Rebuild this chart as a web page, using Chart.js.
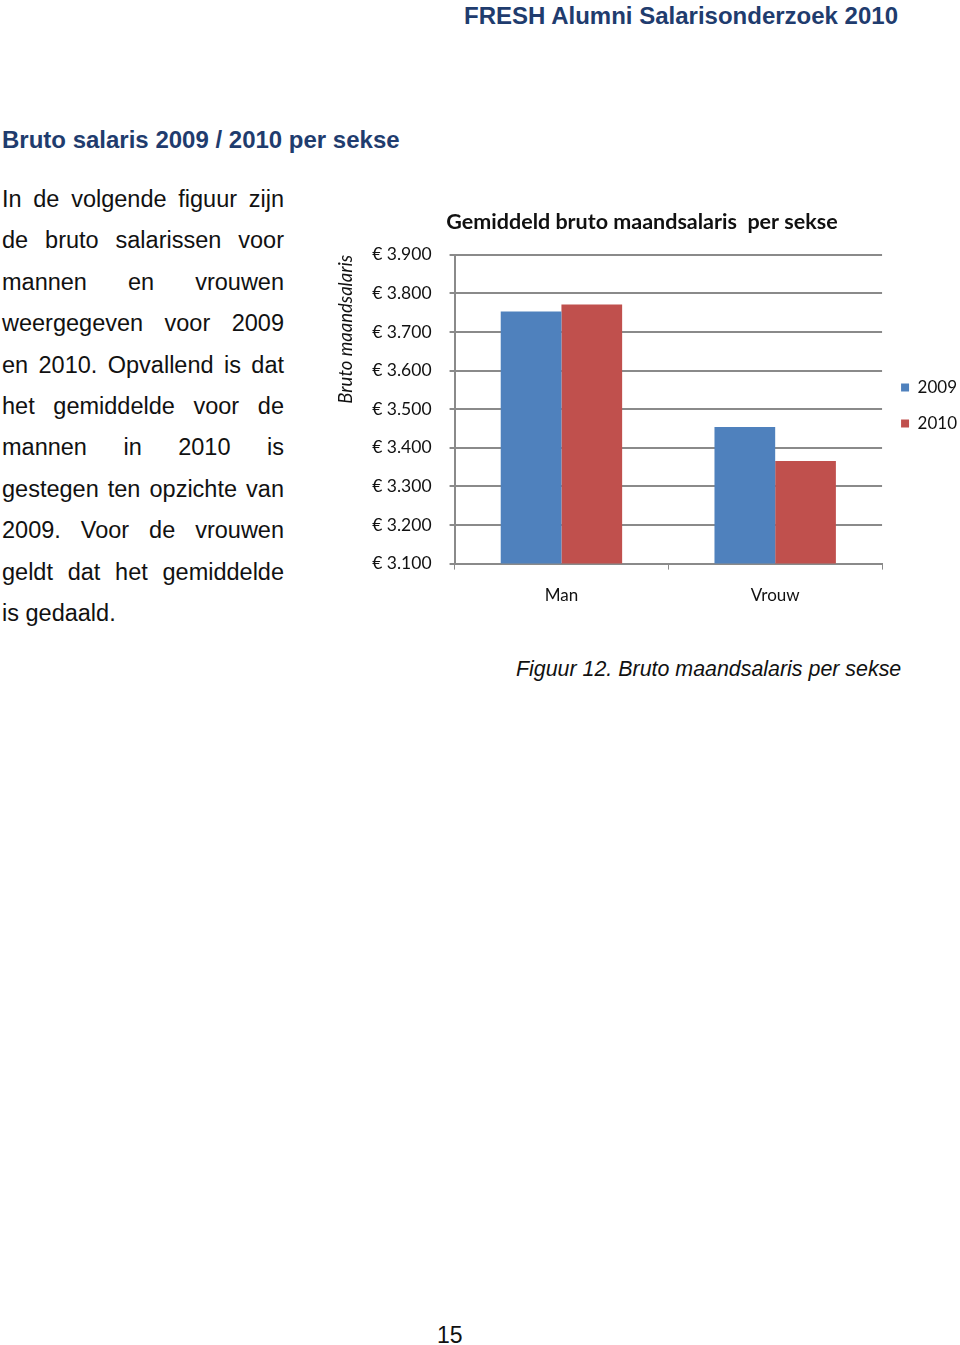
<!DOCTYPE html>
<html>
<head>
<meta charset="utf-8">
<script src="https://cdn.jsdelivr.net/npm/chart.js@4/dist/chart.umd.min.js"></script>
<style>
  body { margin: 0; background: #fff; width: 960px; height: 1345px; position: relative; overflow: hidden; font-family: "Liberation Sans", Arial, sans-serif; }
  .header { position: absolute; top: 2px; right: 62px; font-size: 24px; font-weight: bold; color: #1f3c6e; }
  .section { position: absolute; top: 126px; left: 2px; font-size: 24px; font-weight: bold; color: #1f3c6e; }
  .text { position: absolute; top: 184px; left: 2px; width: 282px; font-size: 23.5px; color: #111; }
  .text div { height: 41.4px; line-height: 30px; text-align: justify; text-align-last: justify; white-space: nowrap; }
  .text div.last { text-align-last: left; }
  .caption { position: absolute; top: 657px; left: 516px; font-size: 21.4px; font-style: italic; color: #111; }
  .page { position: absolute; top: 1322px; left: 437px; font-size: 23px; color: #111; }
  .wrap { position: absolute; left: 327px; top: 203px; width: 640px; height: 419px; }
</style>
</head>
<body>
<div class="header">FRESH Alumni Salarisonderzoek 2010</div>
<div class="section">Bruto salaris 2009 / 2010 per sekse</div>
<div class="text">
  <div>In de volgende figuur zijn</div>
  <div>de bruto salarissen voor</div>
  <div>mannen en vrouwen</div>
  <div>weergegeven voor 2009</div>
  <div>en 2010. Opvallend is dat</div>
  <div>het gemiddelde voor de</div>
  <div>mannen in 2010 is</div>
  <div>gestegen ten opzichte van</div>
  <div>2009. Voor de vrouwen</div>
  <div>geldt dat het gemiddelde</div>
  <div class="last">is gedaald.</div>
</div>
<div class="wrap"><canvas id="salaris"></canvas></div>
<div class="caption">Figuur 12. Bruto maandsalaris per sekse</div>
<div class="page">15</div>

<script>
var categories = ["Man", "Vrouw"];
var values2009 = [3753, 3454];
var values2010 = [3771, 3366];
var yMin = 3100;
var yMax = 3900;
var yStep = 100;

var chartFont = "Lato, 'Open Sans', sans-serif";
var gridColor = "#8a8a8a";

// title and legend sit a bit off-centre in the original figure
var titleShift = -9;
var legendShift = -7;

var nudge = {
    id: 'nudge',
    afterLayout: function (chart) {
        if (chart.titleBlock) {
            chart.titleBlock.left += titleShift;
            chart.titleBlock.right += titleShift;
        }
        if (chart.legend) {
            chart.legend.top += legendShift;
            chart.legend.bottom += legendShift;
        }
    }
};

var ctx = document.getElementById('salaris').getContext('2d');

var graphic = new Chart(ctx, {
    type: 'bar',
    data: {
        labels: categories,
        datasets: [{
            label: "2009",
            backgroundColor: "#4f81bd",
            data: values2009
        }, {
            label: "2010",
            backgroundColor: "#c0504d",
            data: values2010
        }]
    },
    plugins: [nudge],
    options: {
        responsive: true,
        maintainAspectRatio: false,
        animation: false,
        categoryPercentage: 0.568,
        barPercentage: 1,
        layout: { padding: { left: 8, right: 0, top: 0, bottom: 0 } },
        plugins: {
            title: {
                display: true,
                text: "Gemiddeld bruto maandsalaris  per sekse",
                color: "#111",
                font: { family: chartFont, size: 21.5, weight: 'bold' },
                padding: { top: 6, bottom: 20 }
            },
            legend: {
                position: 'right',
                labels: {
                    color: "#111",
                    font: { family: chartFont, size: 17 },
                    boxWidth: 8,
                    boxHeight: 8,
                    padding: 19
                }
            },
            tooltip: { enabled: false }
        },
        scales: {
            x: {
                grid: {
                    display: true,
                    drawOnChartArea: false,
                    drawTicks: true,
                    tickLength: 6,
                    color: gridColor,
                    offset: true
                },
                border: { color: gridColor, width: 2 },
                ticks: {
                    color: "#111",
                    font: { family: chartFont, size: 17 },
                    padding: 16
                }
            },
            y: {
                min: yMin,
                max: yMax,
                grid: {
                    color: gridColor,
                    lineWidth: 2,
                    tickLength: 5
                },
                border: { color: gridColor, width: 2 },
                ticks: {
                    stepSize: yStep,
                    color: "#111",
                    font: { family: chartFont, size: 17.5 },
                    padding: 18,
                    callback: function (value) {
                        return "\u20ac " + value.toLocaleString('nl-NL');
                    }
                },
                title: {
                    display: true,
                    text: "Bruto maandsalaris",
                    align: 'end',
                    color: "#111",
                    font: { family: chartFont, size: 18.5, style: 'italic' },
                    padding: { top: 0, bottom: -3 }
                }
            }
        }
    }
});
</script>
</body>
</html>
